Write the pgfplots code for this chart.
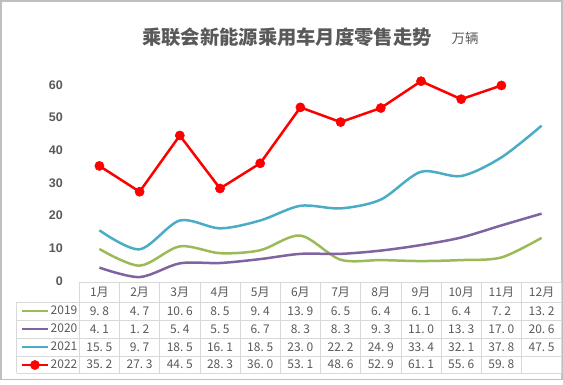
\documentclass[border=0pt]{standalone}
\usepackage{pgfplots}
\usepackage{pgfplotstable}
\pgfplotsset{compat=1.18}
\usepackage{fontspec}
\setmainfont{Liberation Sans}
\newfontfamily\cjk{Noto Sans CJK SC}
\definecolor{c19}{HTML}{9BBB59}
\definecolor{c20}{HTML}{8064A2}
\definecolor{c21}{HTML}{4BACC6}
\definecolor{c22}{HTML}{FF0000}
\definecolor{txt}{HTML}{595959}
\definecolor{gridc}{HTML}{D9D9D9}
\definecolor{framec}{HTML}{BFBFBF}

\pgfplotstableread{
m a b c
1 9.8 4.1 15.5
2 4.7 1.2 9.7
3 10.6 5.4 18.5
4 8.5 5.5 16.1
5 9.4 6.7 18.5
6 13.9 8.3 23.0
7 6.5 8.3 22.2
8 6.4 9.3 24.9
9 6.1 11.0 33.4
10 6.4 13.3 32.1
11 7.2 17.0 37.8
12 13.2 20.6 47.5
}\dataA
\pgfplotstableread{
m d
1 35.2
2 27.3
3 44.5
4 28.3
5 36.0
6 53.1
7 48.6
8 52.9
9 61.1
10 55.6
11 59.8
}\dataB

\newcommand\pn[1]{\pgfmathprintnumber[fixed,fixed zerofill,precision=1,assume math mode=true,set decimal separator={.\hspace{0.22em}}]{#1}}
\newcommand\tfont{\cjk\fontsize{12}{14}\selectfont}

\begin{document}
\begin{tikzpicture}[x=1pt,y=1pt]
\path (0,0) rectangle (563,384);
\draw[framec, line width=1.5pt] (1,4.5) rectangle (562,383);
\node[txt, font=\cjk\bfseries\fontsize{19.3}{22}\selectfont, anchor=west, inner sep=0pt] at (142,347) {乘联会新能源乘用车月度零售走势};
\node[txt, font=\cjk\fontsize{13.5}{16}\selectfont, anchor=west, inner sep=0pt] at (451.5,346) {万辆};

\begin{axis}[
  at={(79.3pt,103pt)}, anchor=south west, scale only axis,
  width=482.4pt, height=196.2pt,
  xmin=0.5, xmax=12.5, ymin=0, ymax=60, clip=false,
  axis line style={draw=none}, tick style={draw=none},
  xtick=\empty, ytick={0,10,...,60},
  /pgf/number format/assume math mode=true,
  yticklabel style={font=\bfseries\fontsize{12.5}{14}\selectfont, text=txt, anchor=east, xshift=-13pt},
  legend style={at={(-0.1215,-0.107)}, anchor=north west, draw=none, fill=none, inner sep=0pt, outer sep=0pt,
    font=\tfont, text=txt, row sep=0pt, column sep=0pt,
    nodes={inner ysep=0pt, inner xsep=1.5pt, text height=13pt, text depth=5pt}},
  legend cell align=left,
  legend image code/.code={\draw[mark repeat=2,mark phase=2,#1] plot coordinates {(0pt,0pt)(13pt,0pt)(26pt,0pt)};},
]
\addplot[c19, line width=2.5pt, smooth] table[x=m,y=a]{\dataA};
\addplot[c20, line width=2.5pt, smooth] table[x=m,y=b]{\dataA};
\addplot[c21, line width=2.5pt, smooth] table[x=m,y=c]{\dataA};
\addplot[c22, line width=2.5pt, mark=*, mark size=4.6pt, mark options={solid, fill=c22, line width=0.5pt}] table[x=m,y=d]{\dataB};
\legend{2019,2020,2021,2022}
\end{axis}

% data table
\begin{scope}[gridc, line width=0.8pt]
\draw (79.3,102) -- (561.7,102);
\foreach \yy in {82,64,46,28,11} \draw (16.7,\yy) -- (561.7,\yy);
\draw (16.7,82) -- (16.7,11);
\foreach \k in {0,...,12} \draw ({79.3+\k*40.2},102) -- ({79.3+\k*40.2},11);
\end{scope}
\foreach \k in {1,...,12} \node[txt, font=\tfont, inner sep=0pt] at ({79.3+(\k-0.5)*40.2},92) {\k 月};
\foreach \r in {0,...,11}{
  \pgfplotstablegetelem{\r}{a}\of\dataA
  \node[txt, font=\tfont, inner sep=0pt] at ({79.3+(\r+0.5)*40.2},73) {\pn{\pgfplotsretval}};
  \pgfplotstablegetelem{\r}{b}\of\dataA
  \node[txt, font=\tfont, inner sep=0pt] at ({79.3+(\r+0.5)*40.2},55) {\pn{\pgfplotsretval}};
  \pgfplotstablegetelem{\r}{c}\of\dataA
  \node[txt, font=\tfont, inner sep=0pt] at ({79.3+(\r+0.5)*40.2},37) {\pn{\pgfplotsretval}};
}
\foreach \r in {0,...,10}{
  \pgfplotstablegetelem{\r}{d}\of\dataB
  \node[txt, font=\tfont, inner sep=0pt] at ({79.3+(\r+0.5)*40.2},19.5) {\pn{\pgfplotsretval}};
}
\end{tikzpicture}
\end{document}
